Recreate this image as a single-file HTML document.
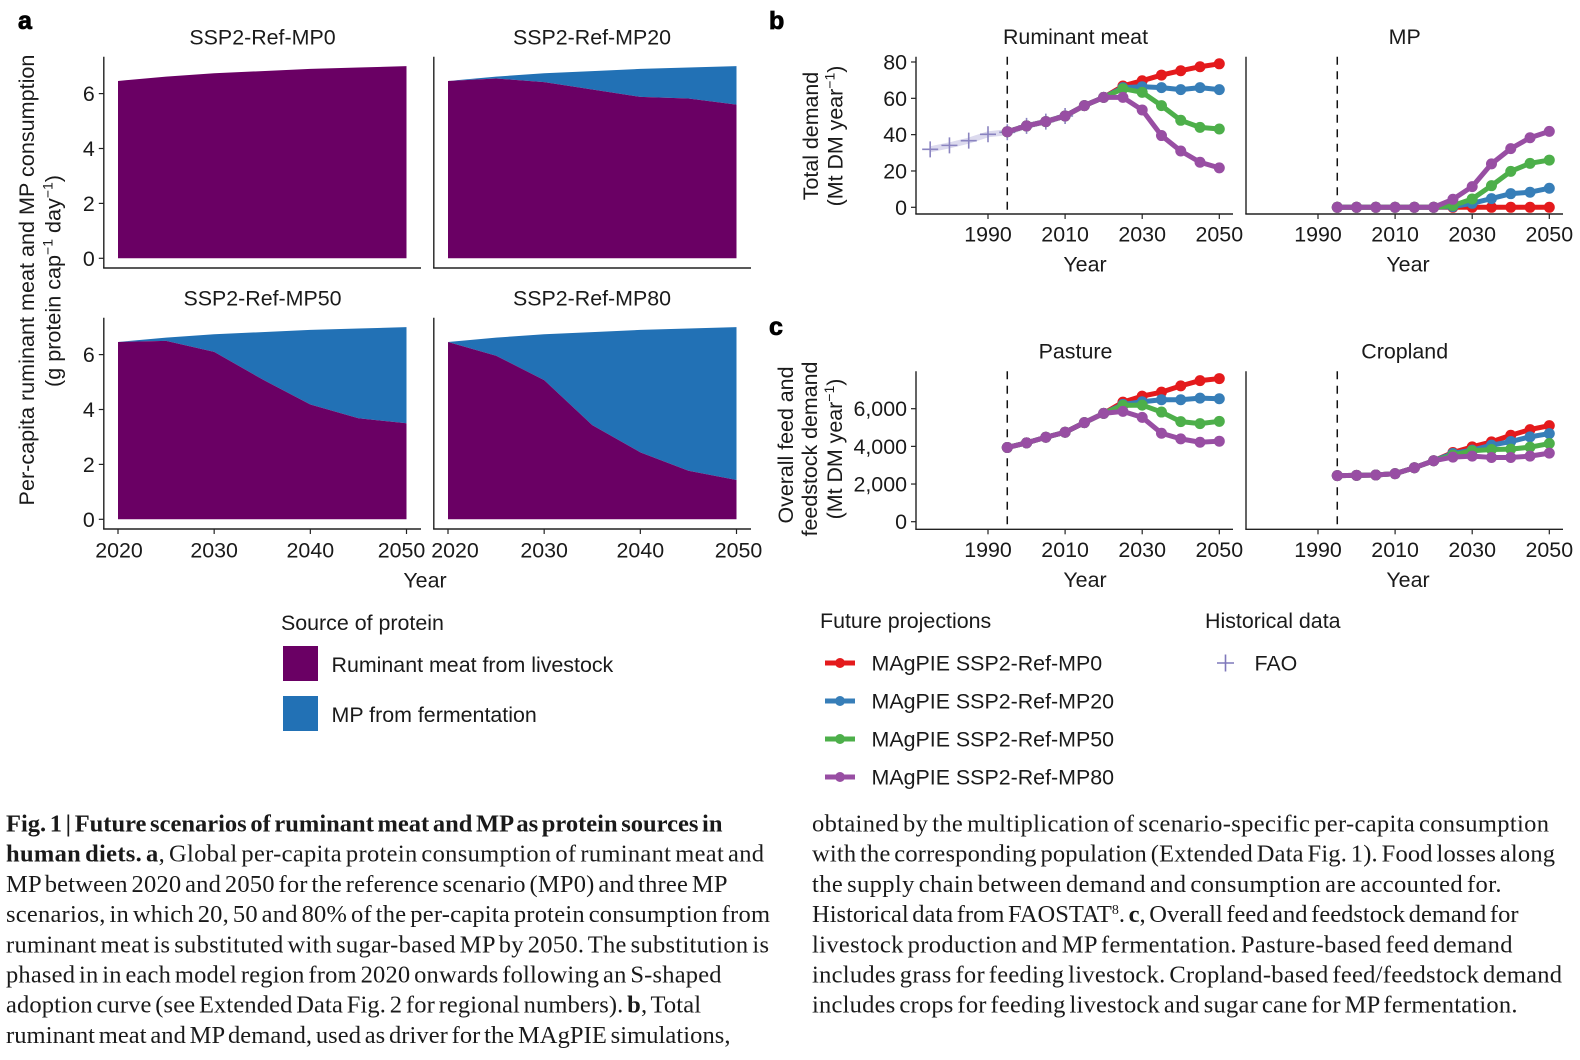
<!DOCTYPE html>
<html lang="en">
<head>
<meta charset="utf-8">
<title>Fig. 1 Future scenarios of ruminant meat and MP</title>
<style>
html,body{margin:0;padding:0;background:#fff;}
#fig{display:block;width:1580px;height:1060px;}
text{font-family:"Liberation Sans",sans-serif;font-size:21.4px;fill:#1a1a1a;}
text.ytitle{font-size:21.6px;}
.cap{font-family:"Liberation Serif",serif;font-size:24.5px;fill:#1a1a1a;word-spacing:-2.5px;}
.cap tspan.b{font-weight:bold;}
.letter{font-weight:bold;font-size:25px;fill:#000;stroke:#000;stroke-width:.8px;}
</style>
</head>
<body>
<svg id="fig" xmlns="http://www.w3.org/2000/svg" width="1580" height="1060" viewBox="0 0 1580 1060">
  <rect x="0" y="0" width="1580" height="1060" fill="#fff"/>
  <g id="charts"></g>

  <text class="letter" x="18" y="29">a</text>
  <text class="letter" x="769" y="29">b</text>
  <text class="letter" x="769" y="335">c</text>

  <text class="ytitle" transform="rotate(-90 34 280)" x="34" y="280" text-anchor="middle">Per-capita ruminant meat and MP consumption</text>
  <text class="ytitle" transform="rotate(-90 60.5 281)" x="60.5" y="281" text-anchor="middle">(g protein cap<tspan font-size="14" dy="-8">−1</tspan><tspan dy="8"> day</tspan><tspan font-size="14" dy="-8">−1</tspan><tspan dy="8">)</tspan></text>
  <text x="425" y="587.5" text-anchor="middle">Year</text>

  <text transform="rotate(-90 818 136)" x="818" y="136" text-anchor="middle">Total demand</text>
  <text transform="rotate(-90 842.5 136)" x="842.5" y="136" text-anchor="middle">(Mt DM year<tspan font-size="14" dy="-8">−1</tspan><tspan dy="8">)</tspan></text>
  <text x="1085" y="271.5" text-anchor="middle">Year</text>
  <text x="1408" y="271.5" text-anchor="middle">Year</text>

  <text transform="rotate(-90 793 445)" x="793" y="445" text-anchor="middle">Overall feed and</text>
  <text transform="rotate(-90 817 449)" x="817" y="449" text-anchor="middle">feedstock demand</text>
  <text transform="rotate(-90 842 449)" x="842" y="449" text-anchor="middle">(Mt DM year<tspan font-size="14" dy="-8">−1</tspan><tspan dy="8">)</tspan></text>
  <text x="1085" y="587" text-anchor="middle">Year</text>
  <text x="1408" y="587" text-anchor="middle">Year</text>

  <g>
    <text x="281" y="630">Source of protein</text>
    <rect x="283" y="646" width="35" height="35" fill="#6a0064"/>
    <text x="331.5" y="672">Ruminant meat from livestock</text>
    <rect x="283" y="696" width="35" height="35" fill="#2271b5"/>
    <text x="331.5" y="722">MP from fermentation</text>
  </g>

  <g>
    <text x="820" y="628">Future projections</text>
    <g>
      <line x1="825" x2="855" y1="663" y2="663" stroke="#e41a1c" stroke-width="5"/><circle cx="840" cy="663" r="5" fill="#e41a1c"/>
      <text x="871.5" y="670.5">MAgPIE SSP2-Ref-MP0</text>
    </g>
    <g>
      <line x1="825" x2="855" y1="701" y2="701" stroke="#377eb8" stroke-width="5"/><circle cx="840" cy="701" r="5" fill="#377eb8"/>
      <text x="871.5" y="708.5">MAgPIE SSP2-Ref-MP20</text>
    </g>
    <g>
      <line x1="825" x2="855" y1="739" y2="739" stroke="#4daf4a" stroke-width="5"/><circle cx="840" cy="739" r="5" fill="#4daf4a"/>
      <text x="871.5" y="746.5">MAgPIE SSP2-Ref-MP50</text>
    </g>
    <g>
      <line x1="825" x2="855" y1="777" y2="777" stroke="#984ea3" stroke-width="5"/><circle cx="840" cy="777" r="5" fill="#984ea3"/>
      <text x="871.5" y="784.5">MAgPIE SSP2-Ref-MP80</text>
    </g>
    <text x="1205" y="628">Historical data</text>
    <g>
      <path d="M1217 663h17M1225.5 654.5v17" stroke="#7f78bb" stroke-width="1.6" fill="none"/>
      <text x="1254.5" y="670.5">FAO</text>
    </g>
  </g>

  <g>
    <text class="cap" x="6" y="831.5" textLength="716.5" lengthAdjust="spacing"><tspan class="b">Fig. 1 | Future scenarios of ruminant meat and MP as protein sources in</tspan></text>
    <text class="cap" x="6" y="861.5" textLength="758" lengthAdjust="spacing"><tspan class="b">human diets. a</tspan>, Global per-capita protein consumption of ruminant meat and</text>
    <text class="cap" x="6" y="891.8" textLength="721.5" lengthAdjust="spacing">MP between 2020 and 2050 for the reference scenario (MP0) and three MP</text>
    <text class="cap" x="6" y="922" textLength="764" lengthAdjust="spacing">scenarios, in which 20, 50 and 80% of the per-capita protein consumption from</text>
    <text class="cap" x="6" y="952.3" textLength="763" lengthAdjust="spacing">ruminant meat is substituted with sugar-based MP by 2050. The substitution is</text>
    <text class="cap" x="6" y="982.5" textLength="715.5" lengthAdjust="spacing">phased in in each model region from 2020 onwards following an S-shaped</text>
    <text class="cap" x="6" y="1012.7" textLength="695" lengthAdjust="spacing">adoption curve (see Extended Data Fig. 2 for regional numbers). <tspan class="b">b</tspan>, Total</text>
    <text class="cap" x="6" y="1043" textLength="724.5" lengthAdjust="spacing">ruminant meat and MP demand, used as driver for the MAgPIE simulations,</text>
  </g>
  <g>
    <text class="cap" x="812" y="831.5" textLength="737" lengthAdjust="spacing">obtained by the multiplication of scenario-specific per-capita consumption</text>
    <text class="cap" x="812" y="861.5" textLength="743" lengthAdjust="spacing">with the corresponding population (Extended Data Fig. 1). Food losses along</text>
    <text class="cap" x="812" y="891.8" textLength="689.5" lengthAdjust="spacing">the supply chain between demand and consumption are accounted for.</text>
    <text class="cap" x="812" y="922" textLength="706.5" lengthAdjust="spacing">Historical data from FAOSTAT<tspan font-size="14" dy="-8">8</tspan><tspan dy="8">. </tspan><tspan class="b">c</tspan>, Overall feed and feedstock demand for</text>
    <text class="cap" x="812" y="952.3" textLength="700.5" lengthAdjust="spacing">livestock production and MP fermentation. Pasture-based feed demand</text>
    <text class="cap" x="812" y="982.5" textLength="750" lengthAdjust="spacing">includes grass for feeding livestock. Cropland-based feed/feedstock demand</text>
    <text class="cap" x="812" y="1012.7" textLength="705.5" lengthAdjust="spacing">includes crops for feeding livestock and sugar cane for MP fermentation.</text>
  </g>
</svg>

<script>
// ---------- Panel a data ----------
const areaYears = [2020, 2025, 2030, 2035, 2040, 2045, 2050];
const areaTicksX = [2020, 2030, 2040, 2050];
const areaTicksY = [0, 2, 4, 6];
const totalProtein = [6.46, 6.62, 6.74, 6.82, 6.90, 6.95, 7.00];
const meatMP0 = [6.46, 6.62, 6.74, 6.82, 6.90, 6.95, 7.00];
const meatMP20 = [6.46, 6.55, 6.42, 6.15, 5.88, 5.82, 5.60];
const meatMP50 = [6.46, 6.50, 6.10, 5.10, 4.18, 3.68, 3.50];
const meatMP80 = [6.46, 5.96, 5.07, 3.43, 2.44, 1.77, 1.43];

// ---------- Panels b and c data ----------
const lineYears = [1995, 2000, 2005, 2010, 2015, 2020, 2025, 2030, 2035, 2040, 2045, 2050];
const lineTicksX = [1990, 2010, 2030, 2050];
const faoYears = [1975, 1980, 1985, 1990, 1995, 2000, 2005, 2010];
const faoRuminant = [31.9, 34.1, 36.7, 40.2, 41.3, 44.8, 47.2, 50.3];

const ruminantTicks = [0, 20, 40, 60, 80];
const ruminantMP0 = [41.6, 44.8, 47.2, 50.3, 56, 60.5, 66.8, 69.7, 72.8, 75.2, 77.4, 79];
const ruminantMP20 = [41.6, 44.8, 47.2, 50.3, 56, 60.5, 65.9, 66.4, 65.9, 64.8, 65.9, 64.8];
const ruminantMP50 = [41.6, 44.8, 47.2, 50.3, 56, 60.5, 65.3, 63.3, 56, 47.9, 44, 43.1];
const ruminantMP80 = [41.6, 44.8, 47.2, 50.3, 56, 60.5, 60.5, 53.6, 39.5, 31, 24.8, 21.7];

const mpMP0 = [0, 0, 0, 0, 0, 0, 0, 0, 0, 0, 0, 0];
const mpMP20 = [0, 0, 0, 0, 0, 0, 0.4, 2.2, 4.8, 7.5, 8.3, 10.5];
const mpMP50 = [0, 0, 0, 0, 0, 0, 0.9, 4.6, 11.9, 19.8, 24.2, 26];
const mpMP80 = [0, 0, 0, 0, 0, 0, 4.4, 11.4, 23.9, 32.3, 38.3, 41.8];

const feedTicks = [0, 2000, 4000, 6000];
const pastureMP0 = [3940, 4186, 4485, 4750, 5260, 5752, 6350, 6667, 6878, 7212, 7493, 7600];
const pastureMP20 = [3940, 4186, 4485, 4750, 5260, 5752, 6227, 6368, 6473, 6473, 6561, 6526];
const pastureMP50 = [3940, 4186, 4485, 4750, 5260, 5752, 6174, 6191, 5822, 5312, 5206, 5330];
const pastureMP80 = [3940, 4186, 4485, 4750, 5260, 5752, 5857, 5540, 4697, 4397, 4220, 4275];

const croplandMP0 = [2445, 2463, 2480, 2550, 2867, 3237, 3676, 3975, 4239, 4591, 4890, 5101];
const croplandMP20 = [2445, 2463, 2480, 2550, 2867, 3237, 3623, 3800, 4063, 4257, 4503, 4679];
const croplandMP50 = [2445, 2463, 2480, 2550, 2867, 3237, 3535, 3764, 3834, 3852, 3958, 4151];
const croplandMP80 = [2445, 2463, 2480, 2550, 2867, 3237, 3430, 3483, 3412, 3412, 3483, 3641];

const NS = 'http://www.w3.org/2000/svg';
const root = document.getElementById('charts');
const INK = '#222';

function mk(parent, tag, attrs, txt) {
  const el = document.createElementNS(NS, tag);
  for (const k in attrs) el.setAttribute(k, attrs[k]);
  if (txt !== undefined) el.textContent = txt;
  parent.appendChild(el);
  return el;
}
function fmt(v) { return v >= 1000 ? String(v).replace(/(\d)(\d{3})$/, '$1,$2') : String(v); }

function drawAxes(g, box, xScale, yScale, xTicks, yTicks, showYLabels, showX, tickLabelY, edgeShift) {
  const yAxis = mk(g, 'line', {x1: box.left, x2: box.left, y1: box.top, y2: box.bottom, stroke: INK, 'stroke-width': 1.4});
  
  
  const xAxis = mk(g, 'line', {x1: box.left - .7, x2: box.right, y1: box.bottom, y2: box.bottom, stroke: INK, 'stroke-width': 1.4});
  
  
  if (showX) {
    xTicks.forEach(function (t, i) {
      const tick = mk(g, 'line', {x1: xScale(t), x2: xScale(t), y1: box.bottom, y2: box.bottom + 5, stroke: INK, 'stroke-width': 1.2});
      
      
      let dx = 0;
      if (edgeShift && i === 0) dx = edgeShift.first;
      if (edgeShift && i === xTicks.length - 1) dx = edgeShift.last;
      const label = mk(g, 'text', {x: xScale(t) + dx, y: tickLabelY, 'text-anchor': 'middle'}, String(t));
      
      
    });
  }
  if (showYLabels) {
    yTicks.forEach(function (t) {
      const tick = mk(g, 'line', {x1: box.left - 5, x2: box.left, y1: yScale(t), y2: yScale(t), stroke: INK, 'stroke-width': 1.2});
      
      
      const label = mk(g, 'text', {x: box.left - 9, y: yScale(t) + 7.5, 'text-anchor': 'end'}, fmt(t));
      
      
    });
  }
}

function areaPanel(spec) {
  const g = mk(root, 'g', {});
  
  
  const xScale = function (yr) { return spec.x0 + (yr - 2020) * 288.5 / 30; };
  const yScale = function (v) { return spec.y0 - v * 27.45; };
  const topPts = areaYears.map(function (yr, i) { return xScale(yr) + ',' + yScale(totalProtein[i]); });
  const midPts = areaYears.map(function (yr, i) { return xScale(yr) + ',' + yScale(spec.meat[i]); });
  const mp = mk(g, 'polygon', {points: topPts.concat(midPts.slice().reverse()).join(' '), fill: '#2271b5'});
  
  
  const base = [xScale(2050) + ',' + yScale(0), xScale(2020) + ',' + yScale(0)];
  const meat = mk(g, 'polygon', {points: midPts.concat(base).join(' '), fill: '#6a0064'});
  
  
  drawAxes(g, {left: spec.x0 - 14.2, right: spec.x0 + 303, top: spec.y0 - 201.6, bottom: spec.y0 + 9.7},
    xScale, yScale, areaTicksX, areaTicksY, spec.showY, spec.showX, spec.y0 + 38.4, spec.edgeShift);
  const title = mk(g, 'text', {x: spec.titleX, y: spec.y0 - 213.6, 'text-anchor': 'middle'}, spec.title);
  
  
}

areaPanel({name: 'panel-mp0', title: 'SSP2-Ref-MP0', meat: meatMP0, x0: 118, y0: 258.3, showY: true, showX: false, titleX: 262.5});
areaPanel({name: 'panel-mp20', title: 'SSP2-Ref-MP20', meat: meatMP20, x0: 448, y0: 258.3, showY: false, showX: false, titleX: 592});
areaPanel({name: 'panel-mp50', title: 'SSP2-Ref-MP50', meat: meatMP50, x0: 118, y0: 519.3, showY: true, showX: true, titleX: 262.5, edgeShift: {first: 1, last: -5}});
areaPanel({name: 'panel-mp80', title: 'SSP2-Ref-MP80', meat: meatMP80, x0: 448, y0: 519.3, showY: false, showX: true, titleX: 592, edgeShift: {first: 7, last: 2}});

const scenarioColors = ['#e41a1c', '#377eb8', '#4daf4a', '#984ea3'];
const scenarioNames = ['mp0', 'mp20', 'mp50', 'mp80'];

function linePanel(spec) {
  const g = mk(root, 'g', {});
  
  
  const xScale = function (yr) { return spec.x1990 + (yr - 1990) * 3.855; };
  const yScale = function (v) { return spec.yZero - v * spec.yPer; };
  drawAxes(g, {left: spec.x1990 - 72, right: spec.x1990 + 245, top: spec.top, bottom: spec.bottom},
    xScale, yScale, lineTicksX, spec.ticks, spec.showY, true, spec.bottom + 27.5);
  const dash = mk(g, 'line', {x1: xScale(1995), x2: xScale(1995), y1: spec.top, y2: spec.bottom, stroke: '#111', 'stroke-width': 1.5, 'stroke-dasharray': '8 6.5'});
  
  
  if (spec.fao) {
    const band = mk(g, 'polyline', {points: faoYears.map(function (yr, i) { return xScale(yr) + ',' + yScale(spec.fao[i]); }).join(' '), fill: 'none', stroke: '#dcdaee', 'stroke-width': 6});
    
    
    faoYears.forEach(function (yr, i) {
      const px = xScale(yr), py = yScale(spec.fao[i]);
      const plus = mk(g, 'path', {d: 'M' + (px - 8) + ' ' + py + 'h16M' + px + ' ' + (py - 8) + 'v16', stroke: '#8a84c0', 'stroke-width': 1.6, fill: 'none'});
      
      
    });
  }
  spec.series.forEach(function (vals, s) {
    const col = scenarioColors[s];
    const sg = mk(g, 'g', {});
    
    
    const line = mk(sg, 'polyline', {points: lineYears.map(function (yr, i) { return xScale(yr) + ',' + yScale(vals[i]); }).join(' '), fill: 'none', stroke: col, 'stroke-width': 5, 'stroke-linejoin': 'round'});
    
    
    lineYears.forEach(function (yr, i) {
      const pt = mk(sg, 'circle', {cx: xScale(yr), cy: yScale(vals[i]), r: 5.5, fill: col});
      
      
    });
  });
  const title = mk(g, 'text', {x: spec.titleX, y: spec.titleY, 'text-anchor': 'middle'}, spec.title);
  
  
}

linePanel({name: 'panel-ruminant-meat', title: 'Ruminant meat', titleX: 1075.5, titleY: 44, x1990: 988, yZero: 207.3, yPer: 1.8163,
  top: 56.7, bottom: 214, ticks: ruminantTicks, showY: true, fao: faoRuminant, series: [ruminantMP0, ruminantMP20, ruminantMP50, ruminantMP80]});
linePanel({name: 'panel-mp-demand', title: 'MP', titleX: 1404.7, titleY: 44, x1990: 1318, yZero: 207.3, yPer: 1.8163,
  top: 56.7, bottom: 214, ticks: ruminantTicks, showY: false, series: [mpMP0, mpMP20, mpMP50, mpMP80]});
linePanel({name: 'panel-pasture', title: 'Pasture', titleX: 1075.5, titleY: 358.5, x1990: 988, yZero: 521.7, yPer: 0.018833,
  top: 371.3, bottom: 529.3, ticks: feedTicks, showY: true, series: [pastureMP0, pastureMP20, pastureMP50, pastureMP80]});
linePanel({name: 'panel-cropland', title: 'Cropland', titleX: 1404.7, titleY: 358.5, x1990: 1318, yZero: 521.7, yPer: 0.018833,
  top: 371.3, bottom: 529.3, ticks: feedTicks, showY: false, series: [croplandMP0, croplandMP20, croplandMP50, croplandMP80]});
</script>
</body>
</html>
